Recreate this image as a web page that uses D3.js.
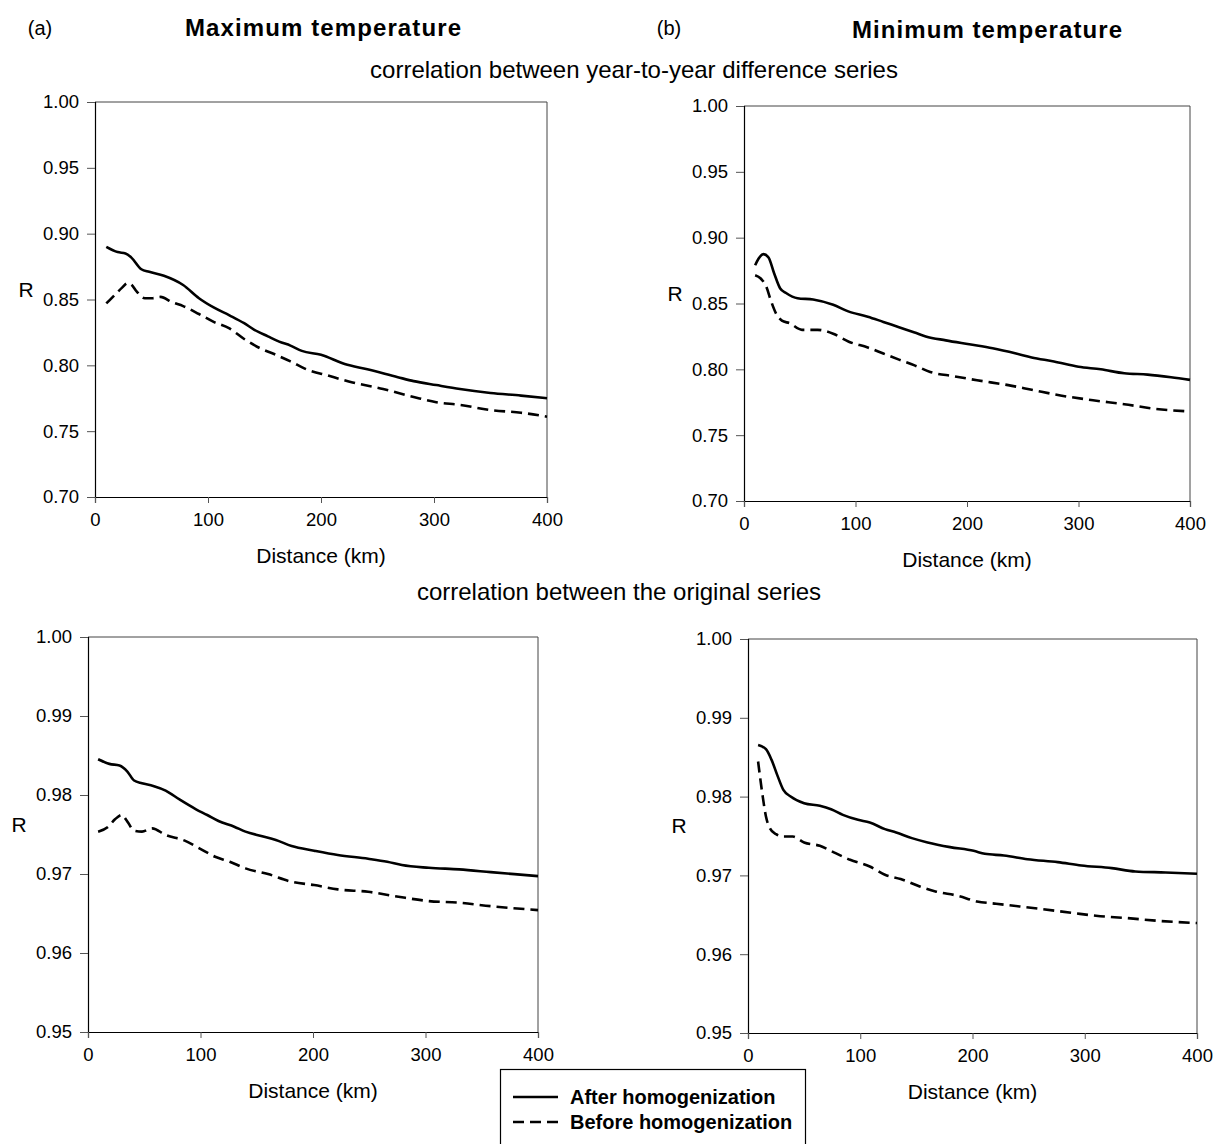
<!DOCTYPE html>
<html>
<head>
<meta charset="utf-8">
<script src="https://cdn.jsdelivr.net/npm/d3@7"></script>
<style>
  html, body { margin: 0; padding: 0; background: #fff; }
  svg { display: block; font-family: "Liberation Sans", Arial, Helvetica, sans-serif; }
</style>
</head>
<body>
<svg id="chart" width="1215" height="1144"></svg>
<script>
// ---------------- DATA ----------------
const xTicks = [0, 100, 200, 300, 400];
const yTicksTop = [0.70, 0.75, 0.80, 0.85, 0.90, 0.95, 1.00];
const yTicksBottom = [0.95, 0.96, 0.97, 0.98, 0.99, 1.00];
const seriesNames = ["After homogenization", "Before homogenization"];

// (a) Maximum temperature — year-to-year difference series
const maxDiffAfterX = [10, 20, 27, 32, 41, 48, 61, 78, 92, 105, 119, 132, 141, 153, 163, 173, 183, 200, 221, 241, 268, 282, 302, 323, 350, 377, 400];
const maxDiffAfterY = [0.890, 0.886, 0.885, 0.882, 0.873, 0.871, 0.868, 0.861, 0.851, 0.844, 0.838, 0.832, 0.827, 0.822, 0.818, 0.815, 0.811, 0.808, 0.801, 0.797, 0.791, 0.788, 0.785, 0.782, 0.779, 0.777, 0.775];
const maxDiffBeforeX = [10, 17, 24, 29, 32, 37, 44, 51, 58, 68, 78, 92, 105, 119, 132, 146, 160, 173, 187, 207, 228, 255, 282, 302, 323, 350, 377, 400];
const maxDiffBeforeY = [0.847, 0.853, 0.859, 0.8625, 0.8615, 0.856, 0.851, 0.851, 0.852, 0.848, 0.845, 0.839, 0.833, 0.828, 0.820, 0.813, 0.808, 0.803, 0.797, 0.792, 0.787, 0.782, 0.776, 0.772, 0.770, 0.766, 0.764, 0.761];

// (b) Minimum temperature — year-to-year difference series
const minDiffAfterX = [10, 13, 17.5, 22, 27, 32.5, 37.7, 48, 62, 80, 93.5, 111, 125, 139, 153, 163, 181, 202, 223, 244, 258, 278, 300, 320, 341, 362, 383, 400];
const minDiffAfterY = [0.879, 0.884, 0.8875, 0.885, 0.873, 0.8614, 0.858, 0.854, 0.853, 0.849, 0.844, 0.840, 0.836, 0.832, 0.828, 0.825, 0.822, 0.819, 0.816, 0.812, 0.809, 0.806, 0.802, 0.800, 0.797, 0.796, 0.794, 0.792];
const minDiffBeforeX = [10, 15, 20, 24, 29, 34, 41, 52, 66, 80, 94, 111, 125, 139, 153, 167, 188, 209, 237, 258, 285, 313, 341, 369, 400];
const minDiffBeforeY = [0.8715, 0.869, 0.8627, 0.8525, 0.842, 0.837, 0.835, 0.830, 0.830, 0.827, 0.821, 0.8166, 0.812, 0.8074, 0.803, 0.798, 0.7948, 0.7917, 0.788, 0.7845, 0.780, 0.7765, 0.7735, 0.770, 0.768];

// (a) Maximum temperature — original series
const maxOrigAfterX = [9, 19, 28, 35, 41, 48, 58, 69, 82, 96, 106, 116, 130, 140, 154, 167, 181, 201, 222, 249, 266, 279, 303, 330, 358, 400];
const maxOrigAfterY = [0.98453, 0.98394, 0.98373, 0.98297, 0.98183, 0.98149, 0.98115, 0.98056, 0.97937, 0.97819, 0.97747, 0.97671, 0.97599, 0.97536, 0.97481, 0.97430, 0.97354, 0.97295, 0.97240, 0.97193, 0.97155, 0.97113, 0.97079, 0.97058, 0.97024, 0.96973];
const maxOrigBeforeX = [9, 18, 24, 30, 35, 41, 48, 57, 69, 86, 99, 113, 126, 140, 160, 181, 201, 222, 249, 276, 303, 330, 358, 400];
const maxOrigBeforeY = [0.97536, 0.97599, 0.97692, 0.97747, 0.97663, 0.97549, 0.97536, 0.97578, 0.97494, 0.97422, 0.97325, 0.97219, 0.97155, 0.97071, 0.96999, 0.96902, 0.96860, 0.96805, 0.96775, 0.96712, 0.96657, 0.96636, 0.96593, 0.96543];

// (b) Minimum temperature — original series
const minOrigAfterX = [9, 16, 21, 26, 31.5, 38, 50, 64, 74, 84.5, 98, 108.5, 122, 132, 146, 160, 180, 201, 211, 228, 249, 276, 297, 324, 345, 372, 400];
const minOrigAfterY = [0.98656, 0.98601, 0.98466, 0.98276, 0.98085, 0.98001, 0.97916, 0.97883, 0.97840, 0.97768, 0.97705, 0.97671, 0.97587, 0.97544, 0.97473, 0.97418, 0.97359, 0.97312, 0.97274, 0.97253, 0.97206, 0.97168, 0.97126, 0.97092, 0.97050, 0.97037, 0.97020];
const minOrigBeforeX = [9, 12.7, 16, 19.5, 25, 31.5, 40, 50, 64, 78, 91, 108.5, 122, 136, 153, 167, 187, 204, 221, 242, 262, 290, 310, 338, 365, 400];
const minOrigBeforeY = [0.98445, 0.98043, 0.97747, 0.97599, 0.97523, 0.97493, 0.97493, 0.97418, 0.97375, 0.97282, 0.97198, 0.97113, 0.97008, 0.96953, 0.96860, 0.96796, 0.96741, 0.96670, 0.96640, 0.96606, 0.96572, 0.96522, 0.96488, 0.96458, 0.96424, 0.96395];

// ---------------- LAYOUT ----------------
const svg = d3.select("#chart");
const FONT = '"Liberation Sans", Arial, Helvetica, sans-serif';

const panels = [
  { box: [95, 547, 102, 497], yDomain: [0.70, 1.00], yTicks: yTicksTop,
    after: [maxDiffAfterX, maxDiffAfterY], before: [maxDiffBeforeX, maxDiffBeforeY] },
  { box: [744, 1190, 106, 501], yDomain: [0.70, 1.00], yTicks: yTicksTop,
    after: [minDiffAfterX, minDiffAfterY], before: [minDiffBeforeX, minDiffBeforeY] },
  { box: [88, 538, 637, 1032], yDomain: [0.95, 1.00], yTicks: yTicksBottom,
    after: [maxOrigAfterX, maxOrigAfterY], before: [maxOrigBeforeX, maxOrigBeforeY] },
  { box: [748, 1197, 639, 1033], yDomain: [0.95, 1.00], yTicks: yTicksBottom,
    after: [minOrigAfterX, minOrigAfterY], before: [minOrigBeforeX, minOrigBeforeY] }
];

const zip = (xs, ys) => xs.map((x, i) => ({ x: x, y: ys[i] }));

panels.forEach(p => {
  const [l, r, t, b] = p.box;
  const x = d3.scaleLinear().domain([0, 400]).range([l, r]);
  const y = d3.scaleLinear().domain(p.yDomain).range([b, t]);
  const g = svg.append("g");

  g.append("path")
    .attr("d", `M${l},${t}H${r}V${b}`)
    .attr("fill", "none").attr("stroke", "#444").attr("stroke-width", 1);

  const ya = g.append("g").attr("transform", `translate(${l},0)`)
    .call(d3.axisLeft(y).tickValues(p.yTicks).tickFormat(d3.format(".2f")).tickSize(8).tickPadding(8));
  const xa = g.append("g").attr("transform", `translate(0,${b})`)
    .call(d3.axisBottom(x).tickValues(xTicks).tickFormat(d3.format("d")).tickSize(6).tickPadding(10));

  [ya, xa].forEach(a => {
    a.select(".domain").attr("stroke", "#000").attr("stroke-width", 1.2);
    a.selectAll(".tick line").attr("stroke", "#555").attr("stroke-width", 1);
    a.selectAll(".tick text").attr("fill", "#000").style("font-family", FONT).style("font-size", "18.5px");
  });

  const line = d3.line().x(d => x(d.x)).y(d => y(d.y)).curve(d3.curveMonotoneX);

  g.append("path").datum(zip(p.before[0], p.before[1]))
    .attr("d", line).attr("fill", "none").attr("stroke", "#000")
    .attr("stroke-width", 2.6).attr("stroke-dasharray", "11,6");
  g.append("path").datum(zip(p.after[0], p.after[1]))
    .attr("d", line).attr("fill", "none").attr("stroke", "#000")
    .attr("stroke-width", 2.6);

  g.append("text").attr("x", (l + r) / 2).attr("y", b + 66)
    .attr("text-anchor", "middle").style("font-size", "21px").text("Distance (km)");
  g.append("text").attr("x", l - 69).attr("y", (t + b) / 2 - 3)
    .attr("text-anchor", "middle").style("font-size", "21px").text("R");
});

// panel titles
svg.append("text").attr("x", 40).attr("y", 35).attr("text-anchor", "middle")
  .style("font-size", "20px").text("(a)");
svg.append("text").attr("x", 185).attr("y", 36)
  .attr("textLength", 276).attr("lengthAdjust", "spacing")
  .style("font-size", "24px").style("font-weight", "bold").text("Maximum temperature");
svg.append("text").attr("x", 669).attr("y", 35).attr("text-anchor", "middle")
  .style("font-size", "20px").text("(b)");
svg.append("text").attr("x", 852).attr("y", 38)
  .attr("textLength", 270).attr("lengthAdjust", "spacing")
  .style("font-size", "24px").style("font-weight", "bold").text("Minimum temperature");

svg.append("text").attr("x", 634).attr("y", 78).attr("text-anchor", "middle")
  .style("font-size", "24px").text("correlation between year-to-year difference series");
svg.append("text").attr("x", 619).attr("y", 600).attr("text-anchor", "middle")
  .style("font-size", "24px").text("correlation between the original series");

// legend
const lg = svg.append("g");
lg.append("rect").attr("x", 500.5).attr("y", 1069.5).attr("width", 305).attr("height", 90)
  .attr("fill", "#fff").attr("stroke", "#000").attr("stroke-width", 1.2);
const legY = [1097, 1122];
seriesNames.forEach((name, i) => {
  lg.append("line").attr("x1", 513).attr("x2", 558).attr("y1", legY[i]).attr("y2", legY[i])
    .attr("stroke", "#000").attr("stroke-width", 2.6)
    .attr("stroke-dasharray", i === 1 ? "11,6" : null);
  lg.append("text").attr("x", 570).attr("y", legY[i] + 7)
    .style("font-size", "20px").style("font-weight", "bold").text(name);
});
</script>
</body>
</html>
